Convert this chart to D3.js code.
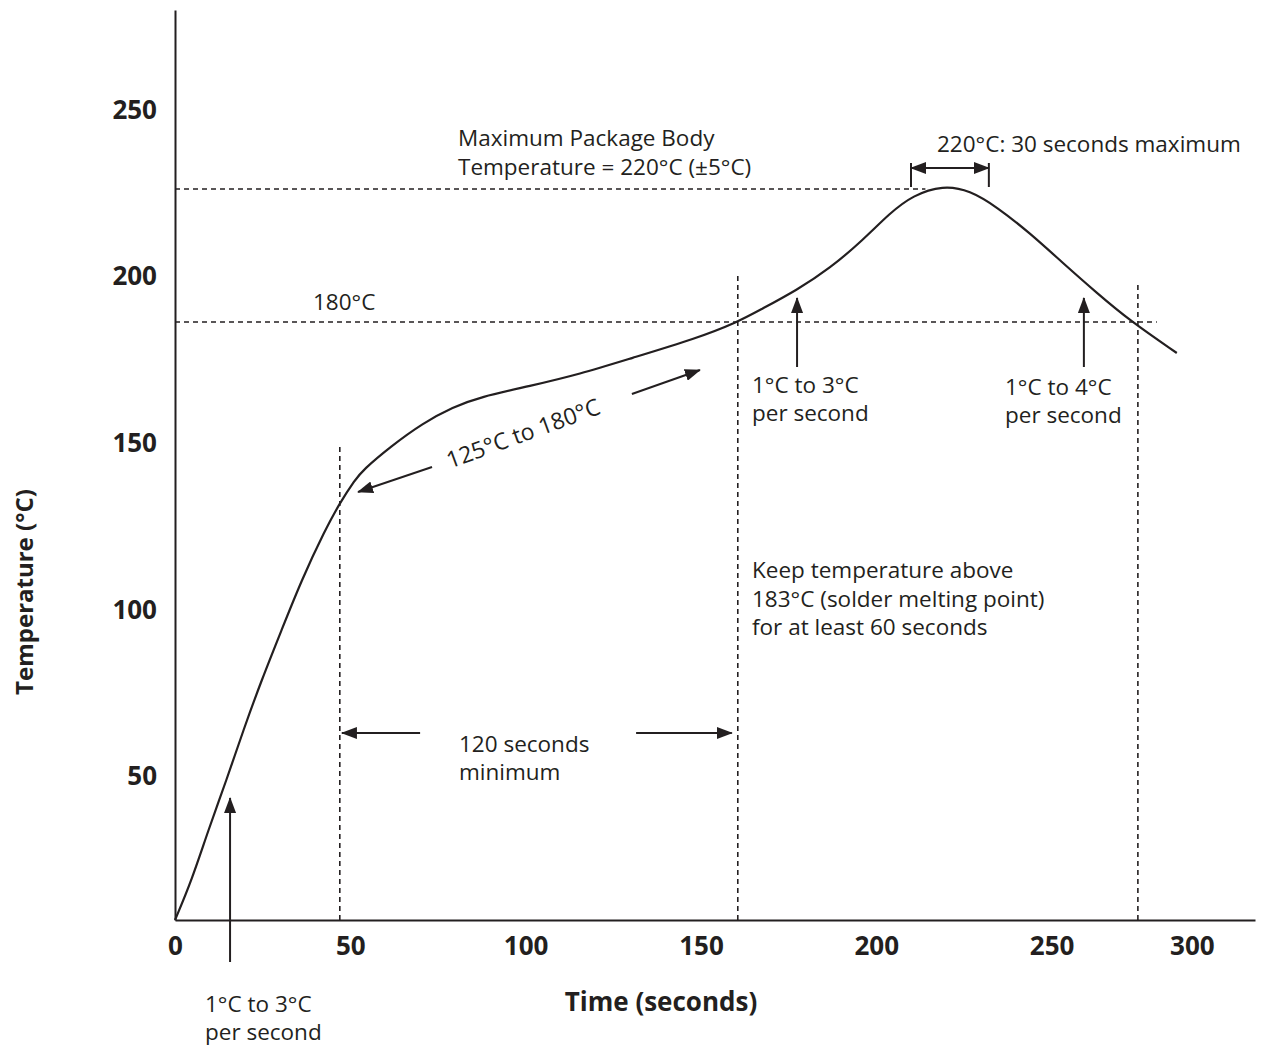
<!DOCTYPE html>
<html>
<head>
<meta charset="utf-8">
<script src="https://cdn.jsdelivr.net/npm/d3@7"></script>
<style>
body { margin: 0; background: #fff; }
svg { display: block; font-family: "Open Sans", "Noto Sans", sans-serif; }
</style>
</head>
<body>
<svg id="canvas" width="1261" height="1049"></svg>
<script>
// reflow profile
let timeSec = [0, 4.8, 9.5, 14.7, 19.5, 24.7, 30.4, 36.1, 42.8, 47, 51.3, 53.6, 61.3, 70.7, 79.3, 87, 101.2, 115.5, 129.7, 148.8, 160.5, 166.8, 177.4, 186.8, 196.2, 203.9, 210.4, 219, 226.7, 234.4, 243.8, 253.2, 262.9, 272.3, 285.7]
let tempC   = [7, 19, 34, 49, 64, 79, 94, 109, 124, 132.1, 139, 142, 148.9, 156.1, 160.9, 163.9, 167.2, 170.8, 175.4, 181.5, 186.4, 190, 196, 202.5, 211, 219.1, 224.4, 227.4, 225.9, 220.9, 213.1, 204.1, 195.1, 186.8, 177.1]

let yTicks = [50, 100, 150, 200, 250]
let xTickAt = [0, 50, 100, 150, 200, 250, 290]
let xTickLabels = ["0", "50", "100", "150", "200", "250", "300"]

// dashed guides
let guideTemps = [226.3, 186.4]
let guideTempEnds = [214, 280]
let guideTimes = [47, 160.5, 274.6]
let guideTimeTops = [149, 200.5, 198.4]

let ink = "#231f20"
let svg = d3.select("#canvas")

let x = d3.scaleLinear().domain([0, 308]).range([175, 1255])
let y = d3.scaleLinear().domain([7, 280]).range([920, 10])

svg.append("defs").append("marker")
    .attr("id", "head")
    .attr("viewBox", "0 0 16 12")
    .attr("refX", 15)
    .attr("refY", 6)
    .attr("markerWidth", 16)
    .attr("markerHeight", 12)
    .attr("markerUnits", "userSpaceOnUse")
    .attr("orient", "auto-start-reverse")
    .append("path")
    .attr("d", "M0,0 L16,6 L0,12 Z")
    .attr("fill", ink)

// axes
let xAxis = d3.axisBottom(x)
    .tickValues(xTickAt)
    .tickFormat((d, i) => xTickLabels[i])
    .tickSize(0)
    .tickSizeOuter(0)
    .tickPadding(16.5)
let yAxis = d3.axisLeft(y)
    .tickValues(yTicks)
    .tickSize(0)
    .tickSizeOuter(0)
    .tickPadding(18)

let gx = svg.append("g").attr("transform", "translate(0,920)").call(xAxis)
let gy = svg.append("g").attr("transform", "translate(175,0)").call(yAxis)
for (let g of [gx, gy]) {
    g.select(".domain").attr("stroke", ink).attr("stroke-width", 2)
    g.selectAll("text")
        .attr("fill", ink)
        .style("font-size", "26px")
        .style("font-weight", "bold")
        .style("font-family", "'Open Sans', sans-serif")
}

// dashed guide lines
svg.selectAll(".hguide")
    .data(guideTemps)
    .enter()
    .append("line")
    .attr("x1", x(0))
    .attr("x2", (d, i) => x(guideTempEnds[i]))
    .attr("y1", d => y(d))
    .attr("y2", d => y(d))
    .attr("stroke", ink)
    .attr("stroke-width", 1.6)
    .attr("stroke-dasharray", "5,4")

svg.selectAll(".vguide")
    .data(guideTimes)
    .enter()
    .append("line")
    .attr("x1", d => x(d))
    .attr("x2", d => x(d))
    .attr("y1", y(7))
    .attr("y2", (d, i) => y(guideTimeTops[i]))
    .attr("stroke", ink)
    .attr("stroke-width", 1.6)
    .attr("stroke-dasharray", "5,4")

// the profile curve
let line = d3.line()
    .x(i => x(timeSec[i]))
    .y(i => y(tempC[i]))
    .curve(d3.curveBasis)

svg.append("path")
    .attr("d", line(d3.range(timeSec.length)))
    .attr("fill", "none")
    .attr("stroke", ink)
    .attr("stroke-width", 2.2)

// annotation arrows (time, temp)
let arrows = [
    [15.7, -5.6, 15.7, 43.6],
    [69.9, 63.1, 47.6, 63.1],
    [131.5, 63.1, 158.8, 63.1],
    [73.3, 142.9, 52.2, 135.4],
    [130.3, 164.8, 149.7, 172],
    [177.4, 172.9, 177.4, 193.6],
    [259.2, 172.9, 259.2, 193.6]
]
svg.selectAll(".arrow")
    .data(arrows)
    .enter()
    .append("line")
    .attr("x1", a => x(a[0]))
    .attr("y1", a => y(a[1]))
    .attr("x2", a => x(a[2]))
    .attr("y2", a => y(a[3]))
    .attr("stroke", ink)
    .attr("stroke-width", 2)
    .attr("marker-end", "url(#head)")

// 30 seconds max double arrow with end bars
svg.append("line")
    .attr("x1", x(209.9)).attr("x2", x(232.1))
    .attr("y1", y(232.6)).attr("y2", y(232.6))
    .attr("stroke", ink).attr("stroke-width", 2)
    .attr("marker-start", "url(#head)")
    .attr("marker-end", "url(#head)")
for (let t of [209.9, 232.1]) {
    svg.append("line")
        .attr("x1", x(t)).attr("x2", x(t))
        .attr("y1", y(234.1)).attr("y2", y(226.9))
        .attr("stroke", ink).attr("stroke-width", 2)
}

// text
let notes = [
    [458, 146, "Maximum Package Body"],
    [458, 175, "Temperature = 220°C (±5°C)"],
    [937, 152, "220°C: 30 seconds maximum"],
    [313, 310, "180°C"],
    [752, 393, "1°C to 3°C"],
    [752, 421, "per second"],
    [1005, 395, "1°C to 4°C"],
    [1005, 423, "per second"],
    [752, 578, "Keep temperature above"],
    [752, 607, "183°C (solder melting point)"],
    [752, 635, "for at least 60 seconds"],
    [459, 752, "120 seconds"],
    [459, 780, "minimum"],
    [205, 1012, "1°C to 3°C"],
    [205, 1040, "per second"]
]
svg.selectAll(".note")
    .data(notes)
    .enter()
    .append("text")
    .attr("x", n => n[0])
    .attr("y", n => n[1])
    .attr("fill", ink)
    .style("font-size", "22.5px")
    .text(n => n[2])

svg.append("text")
    .attr("transform", "translate(526,441) rotate(-20)")
    .attr("text-anchor", "middle")
    .attr("fill", ink)
    .style("font-size", "23px")
    .text("125°C to 180°C")

svg.append("text")
    .attr("x", 661)
    .attr("y", 1011)
    .attr("text-anchor", "middle")
    .attr("fill", ink)
    .style("font-size", "26px")
    .style("font-weight", "bold")
    .text("Time (seconds)")

svg.append("text")
    .attr("transform", "translate(33,592) rotate(-90)")
    .attr("text-anchor", "middle")
    .attr("fill", ink)
    .style("font-size", "24px")
    .style("font-weight", "bold")
    .text("Temperature (°C)")
</script>
</body>
</html>
